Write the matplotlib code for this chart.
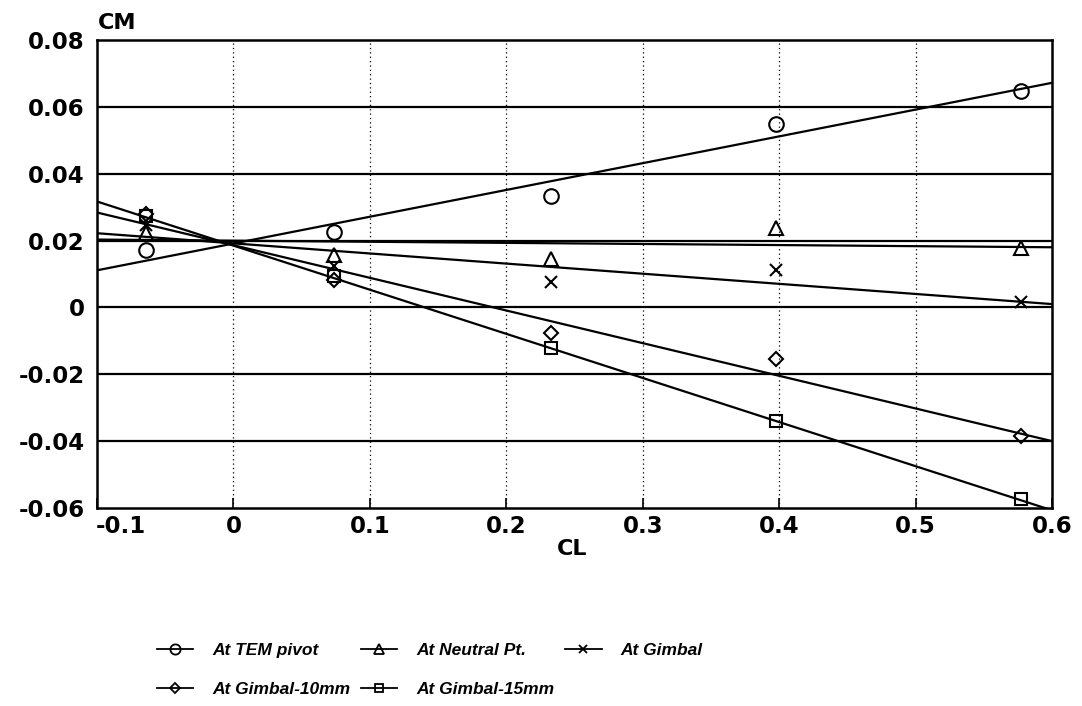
import matplotlib
matplotlib.use("Agg")
import matplotlib.pyplot as plt
import matplotlib.transforms as mtransforms

# ---------------------------------------------------------------------------
# data

cl = [-0.064, 0.0735, 0.233, 0.398, 0.577]

cm_tem = [0.0172, 0.0225, 0.0334, 0.0549, 0.0647]
cm_neutral = [0.0222, 0.0158, 0.0146, 0.0237, 0.0178]
cm_gimbal = [0.0246, 0.0125, 0.0077, 0.0113, 0.0015]
cm_g10 = [0.0281, 0.0082, -0.0077, -0.0153, -0.0385]
cm_g15 = [0.0273, 0.0095, -0.0122, -0.0340, -0.0573]

# fitted straight lines, values at both ends of the CL axis
fit_cl = [-0.1, 0.6]
fit_tem = [0.0111, 0.0672]
fit_neutral = [0.0203, 0.0180]
fit_gimbal = [0.0222, 0.0010]
fit_g10 = [0.0284, -0.0400]
fit_g15 = [0.0317, -0.0607]

labels = ["At TEM pivot", "At Neutral Pt.", "At Gimbal",
          "At Gimbal-10mm", "At Gimbal-15mm"]

xticks = [-0.1, 0, 0.1, 0.2, 0.3, 0.4, 0.5, 0.6]
xticklabels = ["-0.1", "0", "0.1", "0.2", "0.3", "0.4", "0.5", "0.6"]
yticks = [-0.06, -0.04, -0.02, 0, 0.02, 0.04, 0.06, 0.08]
yticklabels = ["-0.06", "-0.04", "-0.02", "0", "0.02", "0.04", "0.06", "0.08"]

# ---------------------------------------------------------------------------

plt.rcParams['font.family'] = ['DejaVu Sans']

fig = plt.figure(figsize=(10.82, 7.06), dpi=100)
ax = fig.add_axes([0.0896, 0.2805, 0.8827, 0.6628])

series = [
    (cm_tem, fit_tem, 'o', 10.5),
    (cm_neutral, fit_neutral, '^', 9.5),
    (cm_gimbal, fit_gimbal, 'x', 9),
    (cm_g10, fit_g10, 'D', 7.5),
    (cm_g15, fit_g15, 's', 9),
]

handles = []
for (vals, fit, mk, ms), lab in zip(series, labels):
    ax.plot(fit_cl, fit, color='black', lw=1.6, zorder=3)
    ax.plot(cl, vals, linestyle='none', marker=mk, markersize=ms,
            markerfacecolor='none', markeredgecolor='black',
            markeredgewidth=1.5, zorder=4)
    h, = ax.plot([], [], color='black', lw=1.3, marker=mk,
                 markersize=ms * 0.7, markerfacecolor='none',
                 markeredgecolor='black', markeredgewidth=1.3, label=lab)
    handles.append(h)

ax.set_xlim(-0.1, 0.6)
ax.set_ylim(-0.06, 0.08)

for y in yticks[1:-1]:
    ax.axhline(y, color='black', lw=1.6, zorder=2)
for x in xticks[1:-1]:
    ax.axvline(x, color='black', lw=0.9, ls=(0, (1, 2.5)), zorder=1)

# first x label sits a bit to the right in the original, drawn by hand
ax.set_xticks(xticks)
ax.set_xticklabels([""] + xticklabels[1:])
ax.set_yticks(yticks)
ax.set_yticklabels(yticklabels)
ax.tick_params(axis='x', direction='in', length=7, width=1.2, pad=5,
               labelsize=16.5)
ax.tick_params(axis='y', length=0, pad=9, labelsize=16.5)
for lab in ax.get_xticklabels() + ax.get_yticklabels():
    lab.set_fontweight('bold')

trans = mtransforms.blended_transform_factory(ax.transData, ax.transAxes)
ax.annotate(xticklabels[0], xy=(xticks[0], 0), xycoords=trans,
            xytext=(17, -5), textcoords='offset points',
            ha='center', va='top', fontsize=16.5, fontweight='bold')

for sp in ax.spines.values():
    sp.set_linewidth(1.8)

fig.text(0.090, 0.968, "CM", fontsize=16, fontweight='bold',
         ha='left', va='center')
fig.text(0.529, 0.222, "CL", fontsize=16, fontweight='bold',
         ha='center', va='center')

# legend: matplotlib fills columns first, so order TEM, G10, Neutral, G15, Gimbal
order = [0, 3, 1, 4, 2]
fig.legend([handles[i] for i in order], [labels[i] for i in order],
           loc='upper left', bbox_to_anchor=(0.145, 0.089),
           bbox_transform=fig.transFigure, ncol=3, frameon=False,
           prop={'family': 'Liberation Sans', 'weight': 'bold',
                 'style': 'italic', 'size': 12.5},
           handlelength=2.1, handletextpad=1.1, columnspacing=0.6,
           labelspacing=1.35, borderpad=0, borderaxespad=0)

fig.savefig("out.png", dpi=100, facecolor='white')
